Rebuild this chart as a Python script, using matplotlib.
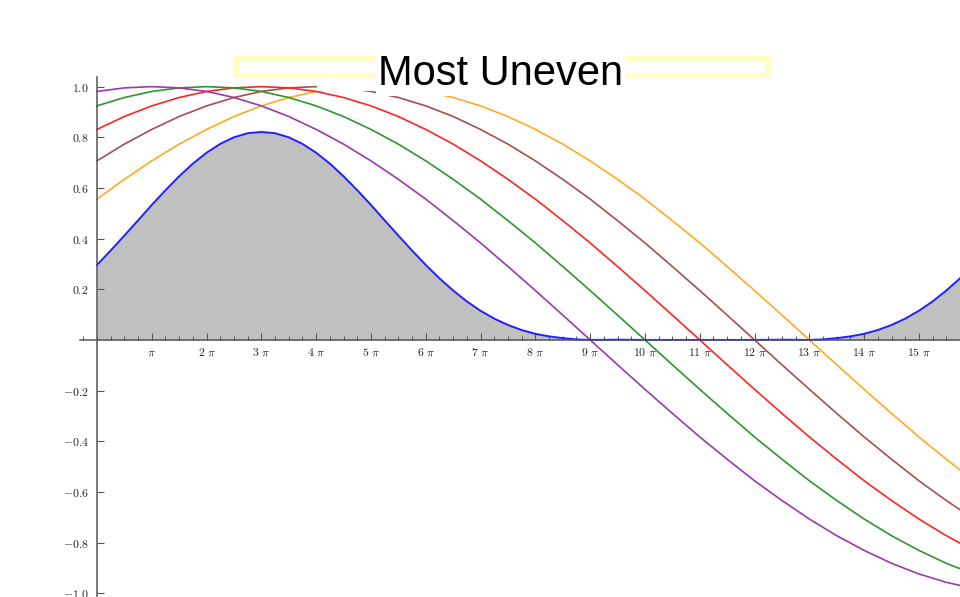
import matplotlib
matplotlib.use("Agg")
import matplotlib.pyplot as plt
from matplotlib.patches import Rectangle
from matplotlib.ticker import FixedLocator, MultipleLocator

plt.rcParams['mathtext.fontset'] = 'cm'

# x positions in units of pi
x_half = [i * 0.5 for i in range(33)]
purple = [0.981, 0.995, 1.0, 0.995, 0.981, 0.957, 0.924, 0.882, 0.831, 0.773, 0.707, 0.634,
          0.556, 0.471, 0.383, 0.290, 0.195, 0.098, 0.0, -0.098, -0.195, -0.290, -0.383,
          -0.471, -0.556, -0.634, -0.707, -0.773, -0.831, -0.882, -0.924, -0.957, -0.981]
green = [0.924, 0.957, 0.981, 0.995, 1.0, 0.995, 0.981, 0.957, 0.924, 0.882, 0.831, 0.773,
         0.707, 0.634, 0.556, 0.471, 0.383, 0.290, 0.195, 0.098, 0.0, -0.098, -0.195, -0.290,
         -0.383, -0.471, -0.556, -0.634, -0.707, -0.773, -0.831, -0.882, -0.924]
red = [0.831, 0.882, 0.924, 0.957, 0.981, 0.995, 1.0, 0.995, 0.981, 0.957, 0.924, 0.882,
       0.831, 0.773, 0.707, 0.634, 0.556, 0.471, 0.383, 0.290, 0.195, 0.098, 0.0, -0.098,
       -0.195, -0.290, -0.383, -0.471, -0.556, -0.634, -0.707, -0.773, -0.831]
brown = [0.707, 0.773, 0.831, 0.882, 0.924, 0.957, 0.981, 0.995, 1.0, 0.995, 0.981, 0.957,
         0.924, 0.882, 0.831, 0.773, 0.707, 0.634, 0.556, 0.471, 0.383, 0.290, 0.195, 0.098,
         0.0, -0.098, -0.195, -0.290, -0.383, -0.471, -0.556, -0.634, -0.707]
orange = [0.556, 0.634, 0.707, 0.773, 0.831, 0.882, 0.924, 0.957, 0.981, 0.995, 1.0, 0.995,
          0.981, 0.957, 0.924, 0.882, 0.831, 0.773, 0.707, 0.634, 0.556, 0.471, 0.383, 0.290,
          0.195, 0.098, 0.0, -0.098, -0.195, -0.290, -0.383, -0.471, -0.556]

blue_x = [0, 0.25, 0.5, 0.75, 1.0, 1.25, 1.5, 1.75, 2.0, 2.25, 2.5, 2.75, 3.0, 3.25, 3.5, 3.75,
          4.0, 4.25, 4.5, 4.75, 5.0, 5.25, 5.5, 5.75, 6.0, 6.25, 6.5, 6.75, 7.0, 7.25, 7.5, 7.75,
          8.0, 8.25, 8.5, 8.75, 9.0, 9.5, 10.0, 10.5, 11.0, 11.5, 12.0, 12.5, 13.0, 13.25, 13.5,
          13.75, 14.0, 14.25, 14.5, 14.75, 15.0, 15.25, 15.5, 15.75, 16.0]
blue_y = [0.296, 0.353, 0.412, 0.472, 0.533, 0.591, 0.646, 0.696, 0.739, 0.774, 0.800, 0.816,
          0.821, 0.816, 0.800, 0.774, 0.739, 0.696, 0.646, 0.591, 0.533, 0.472, 0.412, 0.353,
          0.296, 0.243, 0.195, 0.152, 0.115, 0.084, 0.059, 0.039, 0.024, 0.014, 0.007, 0.002,
          0.0, 0.001, 0.0, 0.0, 0.0, 0.0, 0.0, 0.001, 0.0, 0.002, 0.007, 0.014, 0.024, 0.039,
          0.059, 0.084, 0.115, 0.152, 0.195, 0.243, 0.296]

x_ticks = list(range(1, 16))
x_labels = [r'$\pi$'] + [r'$%d\ \pi$' % k for k in range(2, 16)]
y_ticks = [-1.0, -0.8, -0.6, -0.4, -0.2, 0.2, 0.4, 0.6, 0.8, 1.0]
y_labels = [r'$%.1f$' % v for v in y_ticks]
title = "Most Uneven"

W, H = 960, 597
fig = plt.figure(figsize=(W / 100, H / 100), dpi=100)
ax = fig.add_axes([80 / W, 0, 880 / W, 520 / H])
ax.set_xlim(-0.31, 15.75)
ax.set_ylim(-1.015, 1.038)

ax.fill_between(blue_x, 0, blue_y, color='#c0c0c0', lw=0, zorder=1)
ax.plot(x_half, orange, color='#ffaa22', lw=1.2, zorder=2)
ax.plot(x_half, brown, color='#a5504f', lw=1.2, zorder=2)
ax.plot(x_half, red, color='#ff2525', lw=1.2, zorder=2)
ax.plot(x_half, green, color='#2e962e', lw=1.2, zorder=2)
ax.plot(x_half, purple, color='#9a3aaa', lw=1.2, zorder=2)
ax.plot(blue_x, blue_y, color='#2020ff', lw=1.4, zorder=3)

for s in ['top', 'right']:
    ax.spines[s].set_visible(False)
ax.spines['left'].set_position(('data', 0))
ax.spines['bottom'].set_position(('data', 0))
for s in ['left', 'bottom']:
    ax.spines[s].set_color('#555555')
    ax.spines[s].set_linewidth(1.1)
    ax.spines[s].set_zorder(4)

ax.xaxis.set_major_locator(FixedLocator(x_ticks))
ax.set_xticklabels(x_labels)
ax.xaxis.set_minor_locator(MultipleLocator(0.25))
ax.yaxis.set_major_locator(FixedLocator(y_ticks))
ax.set_yticklabels(y_labels)
ax.tick_params(axis='x', which='major', direction='in', length=5, width=0.8,
               color='#555555', labelsize=8.5, pad=4)
ax.tick_params(axis='x', which='minor', direction='in', length=2.8, width=0.7,
               color='#555555')
ax.tick_params(axis='y', which='major', direction='in', length=5, width=0.8,
               color='#555555', labelsize=8.5, pad=6)
for lab in ax.get_xticklabels() + ax.get_yticklabels():
    lab.set_color('#222222')

# white band hiding the top of the curves on the right
fig.add_artist(Rectangle((317 / W, 1 - 91 / H), (W - 317) / W, 91 / H,
                         transform=fig.transFigure, fc='white', ec='none', zorder=5))
# pale yellow frame
fig.add_artist(Rectangle((235.5 / W, 1 - 74.5 / H), 532 / W, 17 / H,
                         transform=fig.transFigure, fc='none', ec='#ffffc4', lw=3.6, zorder=6))
fig.text(501 / W, 1 - 85 / H, title, ha='center', va='baseline', fontsize=30,
         family=['Liberation Sans', 'DejaVu Sans'], color='black',
         zorder=7, bbox=dict(boxstyle='square,pad=0.05', fc='white', ec='none'))

fig.savefig('out.png', dpi=100)
